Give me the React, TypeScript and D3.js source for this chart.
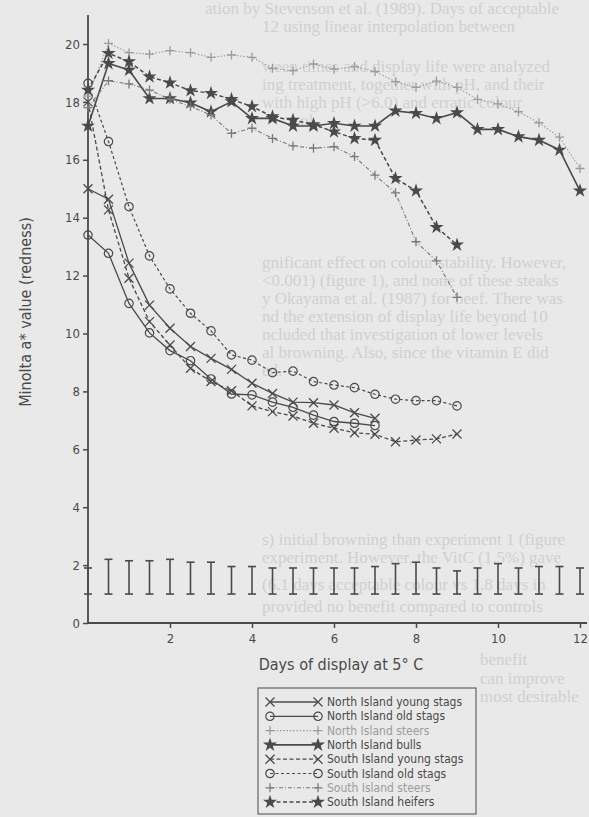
import React, { useEffect, useRef } from 'react';
import * as d3 from 'd3';

// days of display at 5 C (every half day)
const days = [0, 0.5, 1, 1.5, 2, 2.5, 3, 3.5, 4, 4.5, 5, 5.5, 6, 6.5, 7, 7.5, 8, 8.5, 9, 9.5, 10, 10.5, 11, 11.5, 12];

// Minolta a* values, one per half day starting at day 0
const niYoungStags = [15.0, 14.64, 12.43, 10.98, 10.18, 9.55, 9.14, 8.76, 8.28, 7.93, 7.63, 7.61, 7.53, 7.26, 7.07];
const niOldStags = [13.4, 12.77, 11.04, 10.02, 9.41, 9.06, 8.43, 7.91, 7.88, 7.63, 7.45, 7.18, 6.96, 6.9, 6.82];
const niSteers = [18.2, 20.02, 19.7, 19.65, 19.77, 19.7, 19.54, 19.62, 19.54, 19.16, 19.08, 19.31, 19.13, 19.22, 19.05, 18.7, 18.5, 18.72, 18.5, 18.09, 17.93, 17.66, 17.28, 16.78, 15.7];
const niBulls = [17.17, 19.33, 19.1, 18.12, 18.12, 17.97, 17.66, 18.01, 17.43, 17.43, 17.17, 17.17, 17.26, 17.17, 17.17, 17.69, 17.61, 17.43, 17.63, 17.05, 17.05, 16.8, 16.68, 16.34, 14.93];
const siYoungStags = [18.0, 14.27, 11.91, 10.41, 9.6, 8.8, 8.34, 8.02, 7.5, 7.3, 7.15, 6.9, 6.73, 6.57, 6.52, 6.26, 6.32, 6.36, 6.53];
const siOldStags = [18.64, 16.63, 14.38, 12.68, 11.54, 10.7, 10.09, 9.26, 9.08, 8.65, 8.7, 8.34, 8.22, 8.13, 7.9, 7.73, 7.68, 7.68, 7.5];
const siSteers = [17.8, 18.73, 18.62, 18.41, 18.09, 17.84, 17.55, 16.91, 17.09, 16.74, 16.48, 16.4, 16.45, 16.11, 15.47, 14.86, 13.17, 12.51, 11.25];
const siHeifers = [18.41, 19.68, 19.39, 18.87, 18.66, 18.39, 18.3, 18.09, 17.84, 17.49, 17.37, 17.22, 16.97, 16.74, 16.68, 15.36, 14.93, 13.67, 13.06];

// LSD bars at the bottom
const barLow = [1.0, 1.0, 1.0, 1.0, 1.0, 1.0, 1.0, 1.0, 1.0, 1.0, 1.0, 1.0, 1.0, 1.0, 1.0, 1.0, 1.0, 1.0, 1.0, 1.0, 1.0, 1.0, 1.0, 1.0, 1.0];
const barHigh = [1.9, 2.2, 2.15, 2.15, 2.2, 2.1, 2.1, 1.95, 1.95, 1.9, 1.9, 1.9, 1.9, 1.9, 1.95, 2.05, 2.1, 1.9, 1.8, 1.9, 2.05, 1.9, 1.95, 1.95, 1.9];

const yTicks = [0, 2, 4, 6, 8, 10, 12, 14, 16, 18, 20];
const xTicks = [2, 4, 6, 8, 10, 12];

const legendLabels = [
  'North Island young stags',
  'North Island old stags',
  'North Island steers',
  'North Island bulls',
  'South Island young stags',
  'South Island old stags',
  'South Island steers',
  'South Island heifers',
];

// faint show-through text from the other side of the page
const bleedLines = [
  { x: 205, y: 14, t: 'ation by Stevenson et al. (1989). Days of acceptable' },
  { x: 262, y: 32, t: '12 using linear interpolation between' },
  { x: 262, y: 72, t: 'ween times and display life were analyzed' },
  { x: 262, y: 90, t: 'ing treatment, together with pH, and their' },
  { x: 262, y: 108, t: 'with high pH (>6.0) and erratic colour' },
  { x: 300, y: 126, t: 'ol.' },
  { x: 262, y: 268, t: 'gnificant effect on colour stability. However,' },
  { x: 262, y: 286, t: '<0.001) (figure 1), and none of these steaks' },
  { x: 262, y: 304, t: 'y Okayama et al. (1987) for beef. There was' },
  { x: 262, y: 322, t: 'nd the extension of display life beyond 10' },
  { x: 262, y: 340, t: 'ncluded that investigation of lower levels' },
  { x: 262, y: 358, t: 'al browning. Also, since the vitamin E did' },
  { x: 262, y: 376, t: 'ed.' },
  { x: 262, y: 545, t: 's) initial browning than experiment 1 (figure' },
  { x: 262, y: 563, t: 'experiment. However, the VitC (1.5%) gave' },
  { x: 262, y: 590, t: '(6.1 days acceptable colour vs 1.8 days in' },
  { x: 262, y: 612, t: 'provided no benefit compared to controls' },
  { x: 480, y: 665, t: 'benefit' },
  { x: 480, y: 684, t: 'can improve' },
  { x: 480, y: 702, t: 'most desirable' },
];

const INK = '#4a4a4a';
const LIGHT = '#9c9c9c';
const BG = '#e9e9e9';

const App = () => {
  const ref = useRef<SVGSVGElement | null>(null);

  useEffect(() => {
    const width = 589;
    const height = 817;
    const svg = d3.select(ref.current);
    svg.selectAll('*').remove();

    svg.append('rect').attr('width', width).attr('height', height).attr('fill', BG);

    svg.append('g')
      .selectAll('text')
      .data(bleedLines)
      .enter()
      .append('text')
      .attr('x', d => d.x)
      .attr('y', d => d.y)
      .style('font-family', '"Liberation Serif", serif')
      .style('font-size', '17px')
      .style('fill', '#d0d0d0')
      .text(d => d.t);

    const x = d3.scaleLinear().domain([0, 12]).range([88, 580]);
    const y = d3.scaleLinear().domain([0, 20]).range([623, 44]);
    const font = '"DejaVu Sans Condensed", "Liberation Sans Narrow", Roboto, sans-serif';

    // axes
    svg.append('line').attr('x1', 88).attr('x2', 88).attr('y1', 15).attr('y2', y(0))
      .attr('stroke', INK).attr('stroke-width', 1.8);
    svg.append('line').attr('x1', 87).attr('x2', 587).attr('y1', y(0)).attr('y2', y(0))
      .attr('stroke', INK).attr('stroke-width', 1.8);

    const yAxis = svg.append('g').attr('transform', 'translate(88,0)')
      .call(d3.axisLeft(y).tickValues(yTicks).tickSize(5).tickSizeOuter(0).tickPadding(3).tickFormat(d3.format('d')));
    yAxis.select('.domain').remove();
    yAxis.selectAll('line').attr('stroke', INK).attr('stroke-width', 1.5);
    yAxis.selectAll('text').style('font-family', font).style('font-size', '13px').style('fill', INK);

    const xAxis = svg.append('g').attr('transform', `translate(0,${y(0)})`)
      .call(d3.axisBottom(x).tickValues(xTicks).tickSize(5).tickSizeOuter(0).tickPadding(6).tickFormat(d3.format('d')));
    xAxis.select('.domain').remove();
    xAxis.selectAll('line').attr('stroke', INK).attr('stroke-width', 1.5);
    xAxis.selectAll('text').style('font-family', font).style('font-size', '13px').style('fill', INK);

    svg.append('text')
      .attr('transform', 'translate(31,312) rotate(-90)')
      .attr('text-anchor', 'middle')
      .style('font-family', font).style('font-size', '16px').style('fill', INK)
      .text('Minolta a* value  (redness)');

    svg.append('text')
      .attr('x', 341).attr('y', 670)
      .attr('text-anchor', 'middle')
      .style('font-family', font).style('font-size', '16px').style('fill', INK)
      .text('Days  of  display  at  5° C');

    // LSD bars
    const bars = svg.append('g').attr('stroke', INK).attr('stroke-width', 1.6);
    days.forEach((d, i) => {
      const cx = x(d);
      bars.append('line').attr('x1', cx).attr('x2', cx).attr('y1', y(barLow[i])).attr('y2', y(barHigh[i]));
      bars.append('line').attr('x1', cx - 4).attr('x2', cx + 4).attr('y1', y(barLow[i])).attr('y2', y(barLow[i]));
      bars.append('line').attr('x1', cx - 4).attr('x2', cx + 4).attr('y1', y(barHigh[i])).attr('y2', y(barHigh[i]));
    });

    const markerPath: Record<string, string> = {
      x: 'M-4.5,-4.5L4.5,4.5M-4.5,4.5L4.5,-4.5',
      plus: 'M-4.5,0L4.5,0M0,-4.5L0,4.5',
      circle: 'M4.2,0A4.2,4.2 0 1 1 -4.2,0A4.2,4.2 0 1 1 4.2,0Z',
      star: d3.symbol(d3.symbolStar).size(62)() as string,
    };

    const series = [
      { values: niYoungStags, marker: 'x', dash: null, color: INK, width: 1.3 },
      { values: niOldStags, marker: 'circle', dash: null, color: INK, width: 1.3 },
      { values: niSteers, marker: 'plus', dash: '1.5,1.8', color: LIGHT, width: 1.1 },
      { values: niBulls, marker: 'star', dash: null, color: INK, width: 1.6 },
      { values: siYoungStags, marker: 'x', dash: '4,2.5', color: INK, width: 1.3 },
      { values: siOldStags, marker: 'circle', dash: '3,2.5', color: INK, width: 1.2 },
      { values: siSteers, marker: 'plus', dash: '4,2,1,2', color: '#7a7a7a', width: 1.1 },
      { values: siHeifers, marker: 'star', dash: '4,2.5', color: INK, width: 1.5 },
    ];

    const line = d3.line<number>().x((_, i) => x(days[i])).y(v => y(v));

    const drawMarker = (g: any, m: string, cx: number, cy: number, color: string) => {
      const p = g.append('path')
        .attr('transform', `translate(${cx},${cy})`)
        .attr('d', markerPath[m]);
      if (m === 'star') p.attr('fill', color).attr('stroke', 'none');
      else if (m === 'circle') p.attr('fill', 'none').attr('stroke', color).attr('stroke-width', 1.2);
      else p.attr('fill', 'none').attr('stroke', color).attr('stroke-width', 1.3);
    };

    series.forEach(s => {
      const g = svg.append('g');
      g.append('path')
        .attr('d', line(s.values))
        .attr('fill', 'none')
        .attr('stroke', s.color)
        .attr('stroke-width', s.width)
        .attr('stroke-dasharray', s.dash);
      s.values.forEach((v, i) => drawMarker(g, s.marker, x(days[i]), y(v), s.color));
    });

    // legend
    const lg = svg.append('g');
    lg.append('rect')
      .attr('x', 258).attr('y', 688).attr('width', 218).attr('height', 126)
      .attr('fill', 'none').attr('stroke', INK).attr('stroke-width', 1);
    legendLabels.forEach((label, i) => {
      const s = series[i];
      const ly = 702 + i * 14.3;
      lg.append('line')
        .attr('x1', 270).attr('x2', 318).attr('y1', ly).attr('y2', ly)
        .attr('stroke', s.color).attr('stroke-width', s.width)
        .attr('stroke-dasharray', s.dash);
      drawMarker(lg, s.marker, 270, ly, s.color);
      drawMarker(lg, s.marker, 318, ly, s.color);
      lg.append('text')
        .attr('x', 327).attr('y', ly + 4)
        .style('font-family', font).style('font-size', '12px')
        .style('fill', i === 2 || i === 6 ? LIGHT : INK)
        .text(label);
    });
  }, []);

  return (
    <svg ref={ref} width={589} height={817} style={{ position: 'absolute', top: 0, left: 0 }} />
  );
};

export default App;
